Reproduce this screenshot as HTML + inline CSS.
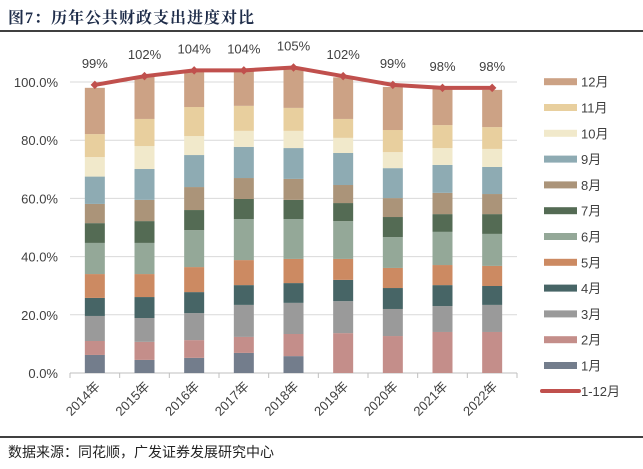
<!DOCTYPE html>
<html><head><meta charset="utf-8"><style>
body{margin:0;background:#fff;width:643px;height:469px;overflow:hidden;font-family:"Liberation Sans","Noto Sans CJK SC",sans-serif;}
#title{position:absolute;left:8px;top:5px;font:bold 16px "Liberation Serif","Noto Serif CJK SC",serif;color:#1f2d4a;letter-spacing:1px;}
#footer{position:absolute;left:8px;top:442px;font-size:14px;color:#222;}
svg{position:absolute;left:0;top:0;}
</style></head><body>
<div id="title">图7：历年公共财政支出进度对比</div>
<svg id="chart" width="643" height="469"></svg>
<div id="footer">数据来源：同花顺，广发证券发展研究中心</div>
<script>
const categories=["2014年","2015年","2016年","2017年","2018年","2019年","2020年","2021年","2022年"];
const seriesNames=["1月","2月","3月","4月","5月","6月","7月","8月","9月","10月","11月","12月"];
const m1=[6.2,4.5,5.2,6.9,5.8,0,0,0,0];
const m2=[4.8,6.2,6.1,5.5,7.6,13.7,12.7,14.1,14.1];
const m3=[8.6,8.2,9.3,11.0,10.7,11.0,9.3,8.9,9.3];
const m4=[6.2,7.2,7.2,6.8,6.8,7.3,7.2,7.2,6.5];
const m5=[8.2,7.9,8.6,8.6,8.3,7.2,6.9,6.9,6.9];
const m6=[10.7,10.7,12.7,14.1,13.7,13.0,10.6,11.4,11.0];
const m7=[6.8,7.5,6.9,6.9,6.6,6.2,6.9,6.1,6.8];
const m8=[6.6,7.3,7.9,7.2,7.2,6.2,6.5,7.3,6.9];
const m9=[9.4,10.6,11.0,10.7,10.6,11.0,10.3,9.6,9.3];
const m10=[6.7,7.9,6.5,5.5,5.9,5.2,5.5,5.8,6.2];
const m11=[7.9,9.3,10.0,8.6,7.9,6.5,7.6,7.9,7.5];
const m12=[15.9,14.7,12.6,12.4,13.9,14.3,14.8,12.6,12.8];
const totalLine=[99,102,104,104,105,102,99,98,98];
const yTicks=[0,20,40,60,80,100];
const colors=["#737d8c","#c48e8a","#9a9a9a","#476566","#cc8a62","#94a898","#546b54","#ab9479","#8eabb3","#f1e9cb","#e8cf9e","#cca285"];
const months=[m1,m2,m3,m4,m5,m6,m7,m8,m9,m10,m11,m12];
const NS="http://www.w3.org/2000/svg";
const svg=document.getElementById('chart');
const L=70,R=517,T=82,B=373,yMax=100;
const bw=(R-L)/categories.length;
const y=v=>B-(v/yMax)*(B-T);
const xc=i=>L+bw*(i+0.5);
function mk(t,a,p){const e=document.createElementNS(NS,t);for(const k in a)e.setAttribute(k,a[k]);(p||svg).appendChild(e);return e;}
yTicks.forEach(t=>{
 const g=mk('line',{x1:L,x2:R,y1:y(t),y2:y(t),stroke:t===0?'#bfbfbf':'#d9d9d9','stroke-width':1});
 
 
 const tx=mk('text',{x:L-12,y:y(t)+5,'text-anchor':'end','font-size':13,fill:'#404040'});
 tx.textContent=t.toFixed(1)+'%';
 
 
});
for(let i=0;i<=categories.length;i++){
 mk('line',{x1:L+bw*i,x2:L+bw*i,y1:B,y2:B+5,stroke:'#bfbfbf'});
}
categories.forEach((c,i)=>{
 let cum=0;
 months.forEach((arr,k)=>{
  const v=arr[i];
  const r=mk('rect',{x:xc(i)-10,y:y(cum+v),width:20,height:y(cum)-y(cum+v),fill:colors[k]});
  
  
  cum+=v;
 });
 const tx=mk('text',{x:0,y:0,'text-anchor':'end','font-size':13,fill:'#404040',transform:`translate(${xc(i)+6},${B+14}) rotate(-45)`});
 tx.textContent=c;
 
 
});
const pts=totalLine.map((v,i)=>xc(i)+','+y(v)).join(' ');
const pl=mk('polyline',{points:pts,fill:'none',stroke:'#c0504d','stroke-width':4,'stroke-linejoin':'round'});


totalLine.forEach((v,i)=>{
 const d=mk('rect',{x:xc(i)-3,y:y(v)-3,width:6,height:6,fill:'#c0504d',transform:`rotate(45 ${xc(i)} ${y(v)})`});
 
 
 const tx=mk('text',{x:xc(i),y:y(v)-17,'text-anchor':'middle','font-size':13,fill:'#404040'});
 tx.textContent=Math.round(v)+'%';
 
 
});
const legendItems=seriesNames.slice().reverse();
legendItems.forEach((n,j)=>{
 const k=seriesNames.length-1-j;
 const yy=81.7+j*25.8;
 const g=mk('g',{});
 
 
 mk('rect',{x:544,y:yy-3.5,width:33,height:7,fill:colors[k]},g);
 const t=mk('text',{x:581,y:yy+5,'font-size':13,fill:'#404040'},g);t.textContent=n;
});
const gl=mk('g',{});


mk('line',{x1:542,x2:579,y1:391,y2:391,stroke:'#c0504d','stroke-width':4,'stroke-linecap':'round'},gl);
const lt=mk('text',{x:581,y:396,'font-size':13,fill:'#404040'},gl);lt.textContent='1-12月';
const tl=mk('line',{x1:0,x2:643,y1:31,y2:31,stroke:'#000','stroke-width':1.5});


const bl=mk('line',{x1:0,x2:643,y1:437,y2:437,stroke:'#000','stroke-width':1.5});


</script>
</body></html>
